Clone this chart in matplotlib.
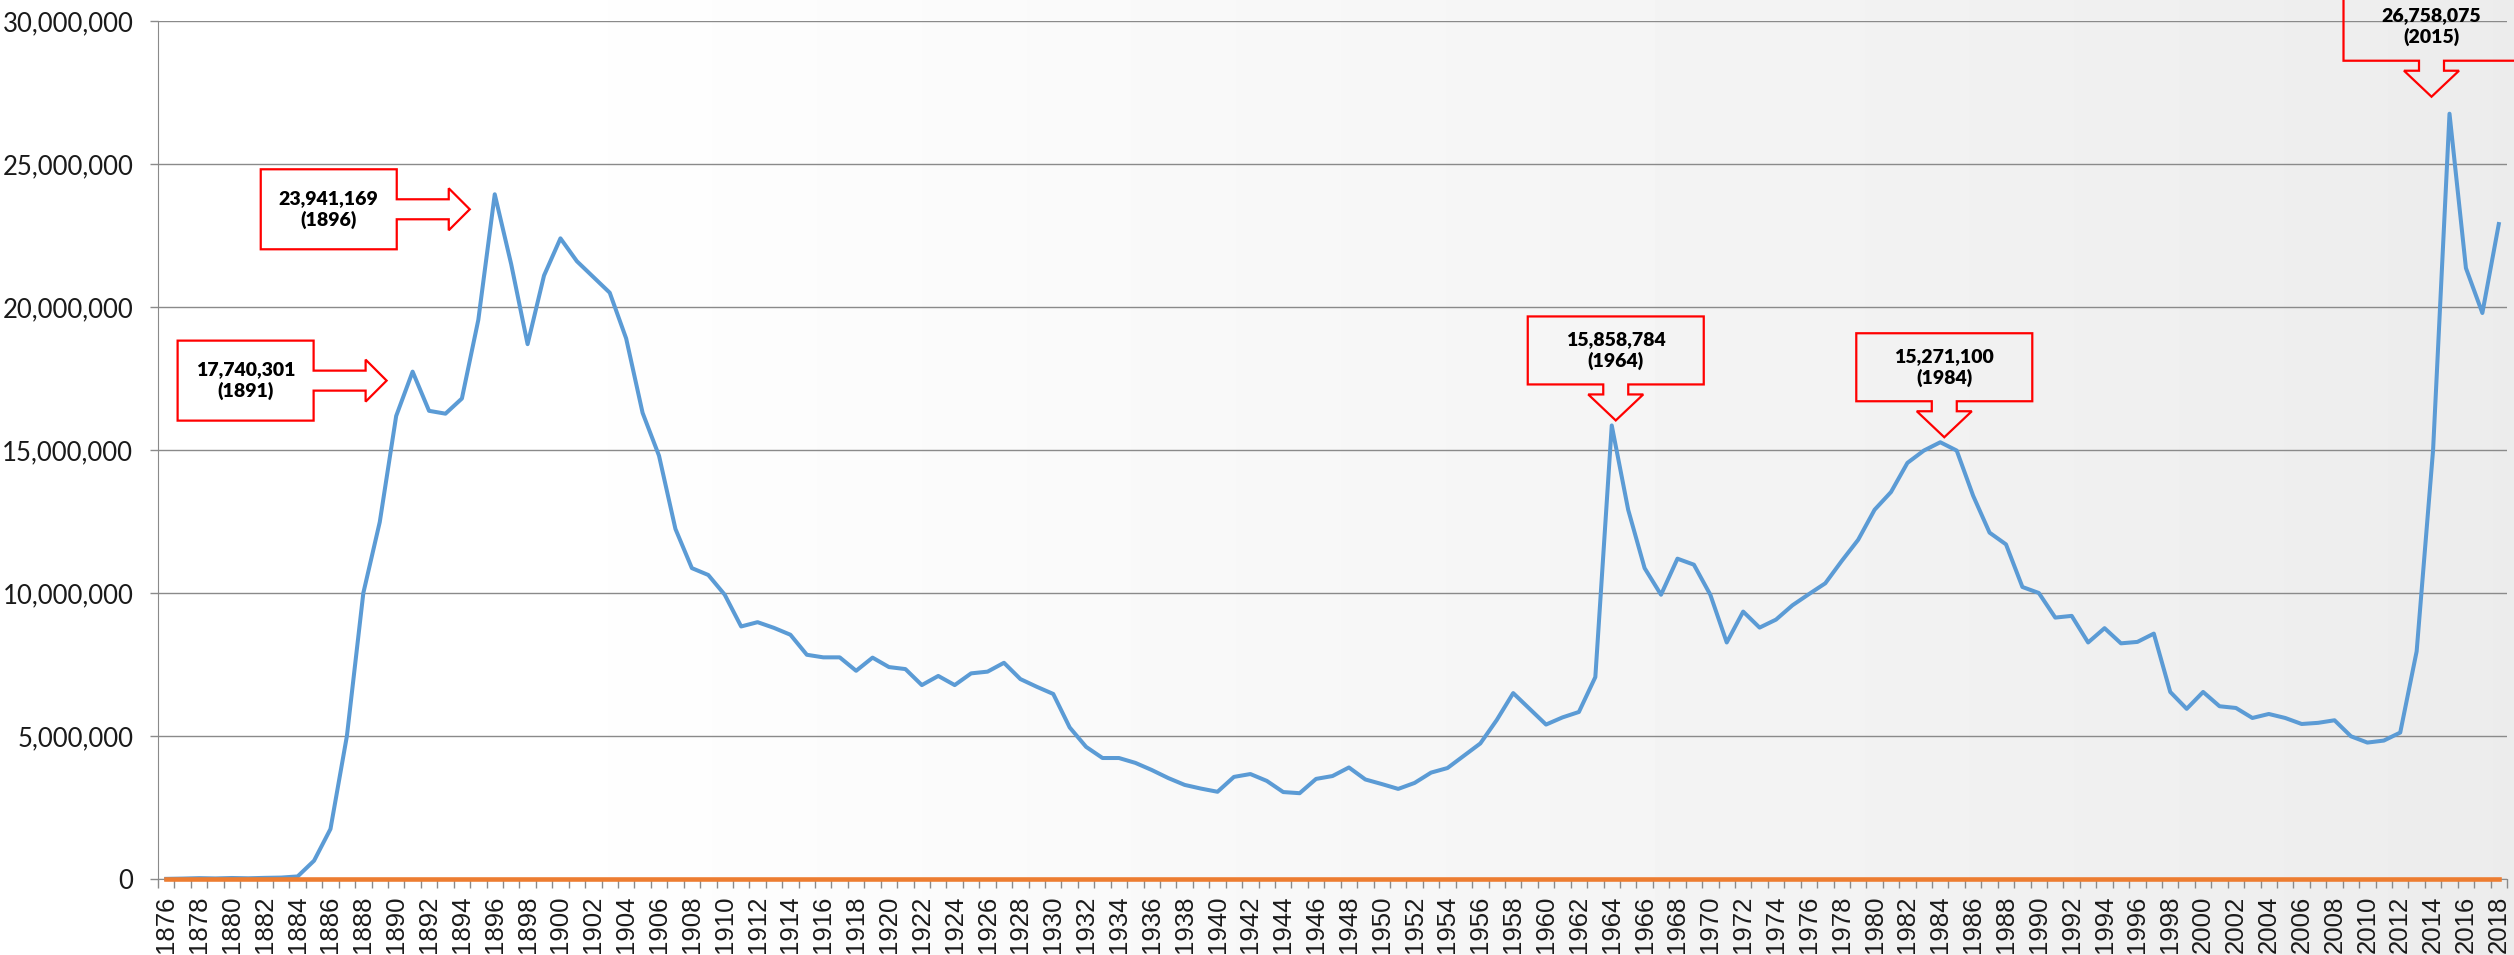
import matplotlib
matplotlib.use("Agg")
import matplotlib.pyplot as plt
import matplotlib.transforms as mtransforms
from matplotlib.patches import Polygon
from matplotlib.ticker import FuncFormatter
import numpy as np

# Data
years = list(range(1876, 2019))
values = [
    5000, 15000, 30000, 20000, 35000, 25000, 40000, 50000, 90000, 640000,            # 1876-1885
    1750000, 5000000, 10000000, 12480000, 16190000, 17740301, 16370000, 16270000,    # 1886-1893
    16800000, 19550000, 23941169, 21500000, 18700000, 21100000, 22400000, 21600000,  # 1894-1901
    21050000, 20500000, 18900000, 16300000, 14800000, 12240000, 10870000, 10630000,  # 1902-1909
    9940000, 8830000, 8980000, 8780000, 8540000, 7840000, 7750000, 7750000,          # 1910-1917
    7280000, 7740000, 7410000, 7340000, 6780000, 7100000, 6780000, 7190000,          # 1918-1925
    7250000, 7560000, 6990000, 6720000, 6470000, 5300000, 4620000, 4230000,          # 1926-1933
    4230000, 4060000, 3810000, 3530000, 3290000, 3160000, 3050000, 3570000,          # 1934-1941
    3670000, 3430000, 3040000, 3000000, 3500000, 3600000, 3900000, 3480000,          # 1942-1949
    3320000, 3150000, 3360000, 3720000, 3880000, 4310000, 4740000, 5560000,          # 1950-1957
    6500000, 5950000, 5400000, 5650000, 5840000, 7060000, 15858784, 12910000,        # 1958-1965
    10870000, 9940000, 11200000, 10990000, 9940000, 8270000, 9350000, 8790000,       # 1966-1973
    9070000, 9570000, 9960000, 10340000, 11120000, 11860000, 12910000, 13530000,     # 1974-1981
    14550000, 14980000, 15271100, 14980000, 13400000, 12110000, 11700000, 10210000,  # 1982-1989
    10000000, 9140000, 9200000, 8270000, 8770000, 8240000, 8290000, 8580000,         # 1990-1997
    6540000, 5950000, 6540000, 6040000, 5980000, 5630000, 5770000, 5630000,          # 1998-2005
    5420000, 5460000, 5550000, 4990000, 4770000, 4840000, 5120000, 7960000,          # 2006-2013
    15000000, 26758075, 21360000, 19790000, 22900000,                                # 2014-2018
]
baseline = [0] * len(years)

callout_years = [1891, 1896, 1964, 1984, 2015]
callout_kind = ["right", "right", "down", "down", "down"]

# Layout of the callouts: tip offset from the point, in pixels (y up)
tip_offsets = [(-26, -9), (-25, -15), (4, 5), (4, 5), (-18, 17)]

DPI = 100
fig = plt.figure(figsize=(25.14, 9.55), dpi=DPI)

# background gradient (white on the left, light grey on the right)
bg = fig.add_axes([0, 0, 1, 1], zorder=-5)
grad = np.interp(np.linspace(0, 1, 600), [0.0, 0.2, 1.0], [1.0, 1.0, 0.925])
bg.imshow(np.tile(grad, (10, 1)), cmap="gray", vmin=0, vmax=1,
          aspect="auto", extent=[0, 1, 0, 1])
bg.axis("off")

ax = fig.add_axes([158 / 2514, 1 - 879 / 955, (2507 - 158) / 2514, (879 - 21) / 955])
ax.set_facecolor("none")

x = np.arange(len(years))
ax.plot(x, values, color="#5B9BD5", linewidth=2.9, zorder=3, clip_on=False)
ax.plot(x, baseline, color="#ED7D31", linewidth=3.3, zorder=4, clip_on=False)

ax.set_xlim(-0.5, len(years) - 0.5)
ax.set_ylim(0, 30000000)

grid_color = "#8a8a8a"
ax.set_yticks(np.arange(0, 30000001, 5000000))
ax.yaxis.set_major_formatter(FuncFormatter(lambda v, p: f"{int(v):,}"))
ax.grid(axis="y", color=grid_color, linewidth=1.0, zorder=1)
ax.set_axisbelow(True)

ax.set_xticks(np.arange(-0.5, len(years) + 0.5, 1))
ax.set_xticklabels([])
ax.set_xticks(x[::2], labels=[str(y) for y in years[::2]], minor=True)

ax.tick_params(axis="x", which="major", length=6.5, width=1.0, color=grid_color)
ax.tick_params(axis="x", which="minor", length=0, pad=12, labelsize=18.5,
               labelrotation=90, labelcolor="#1a1a1a")
ax.tick_params(axis="y", length=5.8, width=1.0, color=grid_color, pad=12,
               labelsize=18.5, labelcolor="#1a1a1a")
for lab in ax.get_xticklabels(minor=True):
    lab.set_fontfamily(["Liberation Sans", "DejaVu Sans"])
for lab in ax.get_yticklabels():
    lab.set_fontfamily(["Lato", "DejaVu Sans"])

for side in ["top", "right"]:
    ax.spines[side].set_visible(False)
ax.spines["left"].set_color(grid_color)
ax.spines["bottom"].set_color(grid_color)

# Callouts
right_shape = [(-209, 40), (-73, 40), (-73, 10), (-21, 10), (-21, 21), (0, 0),
               (-21, -21), (-21, -10), (-73, -10), (-73, -40), (-209, -40)]
down_shape = [(-88, 104), (88, 104), (88, 36), (12.5, 36), (12.5, 26), (27.5, 26),
              (0, 0), (-27.5, 26), (-12.5, 26), (-12.5, 36), (-88, 36)]

for yr, kind, (dx, dy) in zip(callout_years, callout_kind, tip_offsets):
    val = values[years.index(yr)]
    shape = right_shape if kind == "right" else down_shape
    text_pos = (-141, 0) if kind == "right" else (0, 70)
    trans = fig.dpi_scale_trans + mtransforms.ScaledTranslation(
        years.index(yr), val, ax.transData)
    verts = [((px + dx) / DPI, (py + dy) / DPI) for px, py in shape]
    ax.add_patch(Polygon(verts, closed=True, fill=False, edgecolor="#FF0000",
                         linewidth=1.6, transform=trans, clip_on=False, zorder=5))
    ax.text((text_pos[0] + dx) / DPI, (text_pos[1] + dy) / DPI,
            f"{val:,}\n({yr})", transform=trans, ha="center", va="center",
            fontsize=14, fontweight="heavy", family=["Lato", "DejaVu Sans"],
            color="black", linespacing=1.25, clip_on=False, zorder=6)

fig.savefig("out.png", dpi=DPI)
